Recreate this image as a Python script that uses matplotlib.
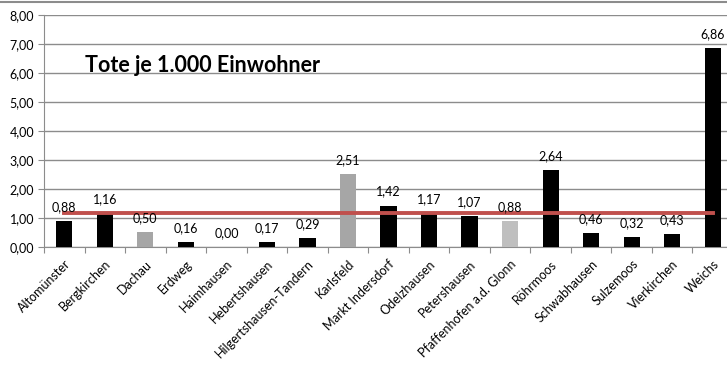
import matplotlib
matplotlib.use("Agg")
import matplotlib.pyplot as plt
from matplotlib.lines import Line2D

categories = ["Altomünster", "Bergkirchen", "Dachau", "Erdweg", "Haimhausen",
              "Hebertshausen", "Hilgertshausen-Tandern", "Karlsfeld", "Markt Indersdorf",
              "Odelzhausen", "Petershausen", "Pfaffenhofen a.d. Glonn", "Röhrmoos",
              "Schwabhausen", "Sulzemoos", "Vierkirchen", "Weichs"]
values = [0.88, 1.16, 0.50, 0.16, 0.00, 0.17, 0.29, 2.51, 1.42, 1.17, 1.07, 0.88,
          2.64, 0.46, 0.32, 0.43, 6.86]
colors = ["#000000", "#000000", "#a6a6a6", "#000000", "#000000", "#000000", "#000000",
          "#a6a6a6", "#000000", "#000000", "#000000", "#bfbfbf", "#000000", "#000000",
          "#000000", "#000000", "#000000"]
average = [1.15] * len(categories)
yticks = [0, 1, 2, 3, 4, 5, 6, 7, 8]
title = "Tote je 1.000 Einwohner"

plt.rcParams['font.family'] = ['Lato', 'DejaVu Sans']

W, H = 727, 370
fig = plt.figure(figsize=(W / 100, H / 100), dpi=100)
left, right, top, bottom = 44, 733, 14.7, 246.7
ax = fig.add_axes([left / W, 1 - bottom / H, (right - left) / W, (bottom - top) / H])

x = list(range(len(categories)))
ax.bar(x, values, width=0.4, color=colors, zorder=3)
ax.plot(x, average, color="#c0504d", lw=2.8, zorder=4)

for xi, v in zip(x, values):
    ax.annotate(f"{v:.2f}".replace(".", ","), (xi, v), xytext=(0, 10),
                textcoords="offset points", ha="center", va="center", fontsize=9,
                zorder=5)

ax.set_xlim(-0.5, len(categories) - 0.5)
ax.set_ylim(0, 8)
ax.set_yticks(yticks)
ax.set_yticklabels([f"{t:.2f}".replace(".", ",") for t in yticks], fontsize=9)
ax.yaxis.grid(True, color="#8c8c8c", lw=1, zorder=0)
ax.set_axisbelow(True)

ax.set_xticks([i - 0.5 for i in x] + [len(categories) - 0.5], minor=False)
ax.set_xticklabels([])
ax.set_xticks(x, minor=True)
ax.set_xticklabels(categories, minor=True, rotation=45, ha="right",
                   rotation_mode="anchor", fontsize=9)
ax.tick_params(axis="x", which="minor", length=0, pad=8)
ax.tick_params(axis="x", which="major", length=4, color="#8c8c8c", direction="out")
ax.tick_params(axis="y", length=4, color="#8c8c8c", pad=3)

for s in ["top", "right"]:
    ax.spines[s].set_visible(False)
for s in ["left", "bottom"]:
    ax.spines[s].set_color("#8c8c8c")

ax.text(85 / W, 1 - 66 / H, title, transform=fig.transFigure, fontsize=15.5,
        fontweight="bold", ha="left", va="center")

fig.add_artist(Line2D([0, 1], [1 - 1.5 / H, 1 - 1.5 / H], transform=fig.transFigure,
                      color="#8c8c8c", lw=1.5))

fig.savefig("out.png", dpi=100)
